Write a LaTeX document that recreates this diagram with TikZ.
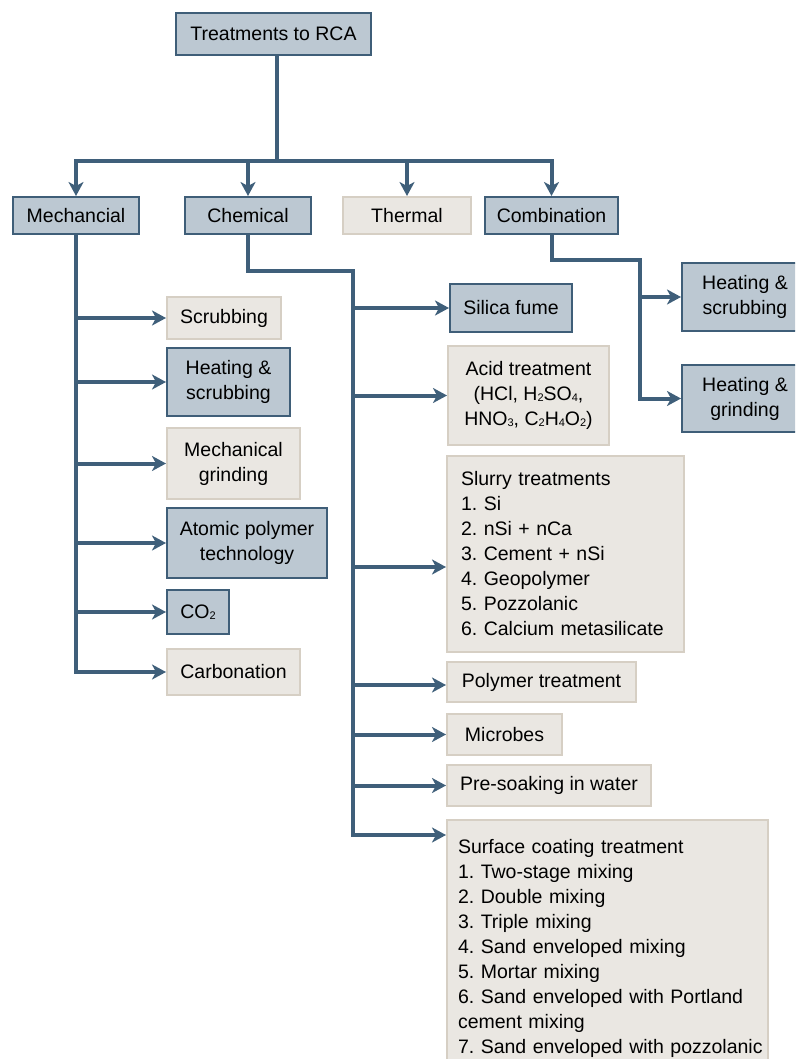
\documentclass[tikz,border=0pt]{standalone}
\usepackage{fontspec}
\setmainfont{Liberation Sans}
\usetikzlibrary{arrows.meta}
\definecolor{bfill}{HTML}{BCC8D2}
\definecolor{bline}{HTML}{3F5E78}
\definecolor{gfill}{HTML}{EAE7E2}
\definecolor{gline}{HTML}{D6CFC4}
\definecolor{wirecol}{HTML}{3F5F7A}
% small chemical index sitting on the baseline
\newcommand{\ix}[1]{\raisebox{-1pt}{\fontsize{11}{11}\selectfont #1}}
\frenchspacing

\begin{document}
\begin{tikzpicture}[x=1pt,y=-1pt,
  box/.style={line width=2pt, inner sep=0pt, align=center,
              font=\fontsize{19.5}{25}\selectfont},
  bluebox/.style={box, draw=bline, fill=bfill},
  tanbox/.style={box, draw=gline, fill=gfill},
  listbox/.style={align=left, inner xsep=14pt},
  wire/.style={draw=wirecol, line width=4pt},
  arr/.style={wire, -{Stealth[length=14pt,width=15pt,inset=4pt]}},
]
\path[use as bounding box] (0,0) rectangle (795,1059);
\clip (0,0) rectangle (795,1059);

% root and first level
\node[bluebox, minimum width=195, minimum height=42] (root) at (273.5,34) {Treatments to RCA};
\node[bluebox, minimum width=126, minimum height=37] (mech) at (76,215.5) {Mechancial};
\node[bluebox, minimum width=126, minimum height=37] (chem) at (248,215.5) {Chemical};
\node[tanbox, minimum width=128, minimum height=37] (therm) at (407,215.5) {Thermal};
\node[bluebox, minimum width=133, minimum height=37] (comb) at (551.5,215.5) {Combination};

% mechanical treatments
\node[tanbox, minimum width=114, minimum height=42] (scrub) at (224,318) {Scrubbing};
\node[bluebox, minimum width=123, minimum height=68] (heatscrub) at (228.5,382) {Heating \&\\scrubbing};
\node[tanbox, minimum width=133, minimum height=71] (mgrind) at (233.5,463.5) {Mechanical\\grinding};
\node[bluebox, minimum width=160, minimum height=70] (atomic) at (247,543) {Atomic polymer\\technology};
\node[bluebox, minimum width=62, minimum height=44] (co2) at (198,612) {CO\ix{2}};
\node[tanbox, minimum width=133, minimum height=46] (carb) at (233.5,672) {Carbonation};

% chemical treatments
\node[bluebox, minimum width=122, minimum height=48] (silica) at (511,308) {Silica fume};
\node[tanbox, minimum width=161, minimum height=99] (acid) at (528.5,395.5)
  {Acid treatment\\(HCl, H\ix{2}SO\ix{4},\\HNO\ix{3}, C\ix{2}H\ix{4}O\ix{2})};
\node[tanbox, listbox, text width=209, minimum height=196] (slurry) at (565.5,554)
  {Slurry treatments\\1. Si\\2. nSi + nCa\\3. Cement + nSi\\4. Geopolymer\\5. Pozzolanic\\6. Calcium metasilicate};
\node[tanbox, minimum width=189, minimum height=40] (polymer) at (541.5,682) {Polymer treatment};
\node[tanbox, minimum width=115, minimum height=41] (microbes) at (504.5,734.5) {Microbes};
\node[tanbox, minimum width=204, minimum height=41] (presoak) at (549,785.5) {Pre-soaking in water};
\node[tanbox, anchor=north west, minimum width=321, minimum height=280] (surface) at (446,819) {};
\node[box, anchor=north west, align=left, text width=310] (surfacetext)
  at ([shift={(11,19)}]surface.north west)
  {Surface coating treatment\\1. Two-stage mixing\\2. Double mixing\\3. Triple mixing\\4. Sand enveloped mixing\\5. Mortar mixing\\6. Sand enveloped with Portland\\cement mixing\\7. Sand enveloped with pozzolanic};

% combined treatments
\node[bluebox, minimum width=126, minimum height=68] (hscomb) at (745,297) {Heating \&\\scrubbing};
\node[bluebox, minimum width=126, minimum height=67] (hgcomb) at (745,398.5) {Heating \&\\grinding};

% root to categories
\coordinate (bus) at (277,161);
\draw[wire] (root.south -| bus) -- (bus);
\draw[arr] (bus) -| (mech.north);
\draw[arr] (bus) -| (comb.north);
\draw[arr] (bus -| chem.north) -- (chem.north);
\draw[arr] (bus -| therm.north) -- (therm.north);

% mechanical branch
\draw[arr] (mech.south) |- (carb.west);
\draw[arr] (mech.south |- scrub.west) -- (scrub.west);
\draw[arr] (mech.south |- heatscrub.west) -- (heatscrub.west);
\draw[arr] (mech.south |- mgrind.west) -- (mgrind.west);
\draw[arr] (mech.south |- atomic.west) -- (atomic.west);
\draw[arr] (mech.south |- co2.west) -- (co2.west);

% chemical branch
\coordinate (chturn) at (353,271);
\coordinate (surfin) at (446,835);
\draw[arr] (chem.south) |- (chturn) |- (surfin);
\draw[arr] (chturn |- silica.west) -- (silica.west);
\draw[arr] (chturn |- acid.west) -- (acid.west);
\draw[arr] (chturn |- 0,567) -- (slurry.west |- 0,567);
\draw[arr] (chturn |- 0,685) -- (polymer.west |- 0,685);
\draw[arr] (chturn |- microbes.west) -- (microbes.west);
\draw[arr] (chturn |- presoak.west) -- (presoak.west);

% combination branch
\coordinate (coturn) at (640,260);
\draw[arr] (comb.south) |- (coturn) |- (hgcomb.west);
\draw[arr] (coturn |- hscomb.west) -- (hscomb.west);
\end{tikzpicture}
\end{document}
